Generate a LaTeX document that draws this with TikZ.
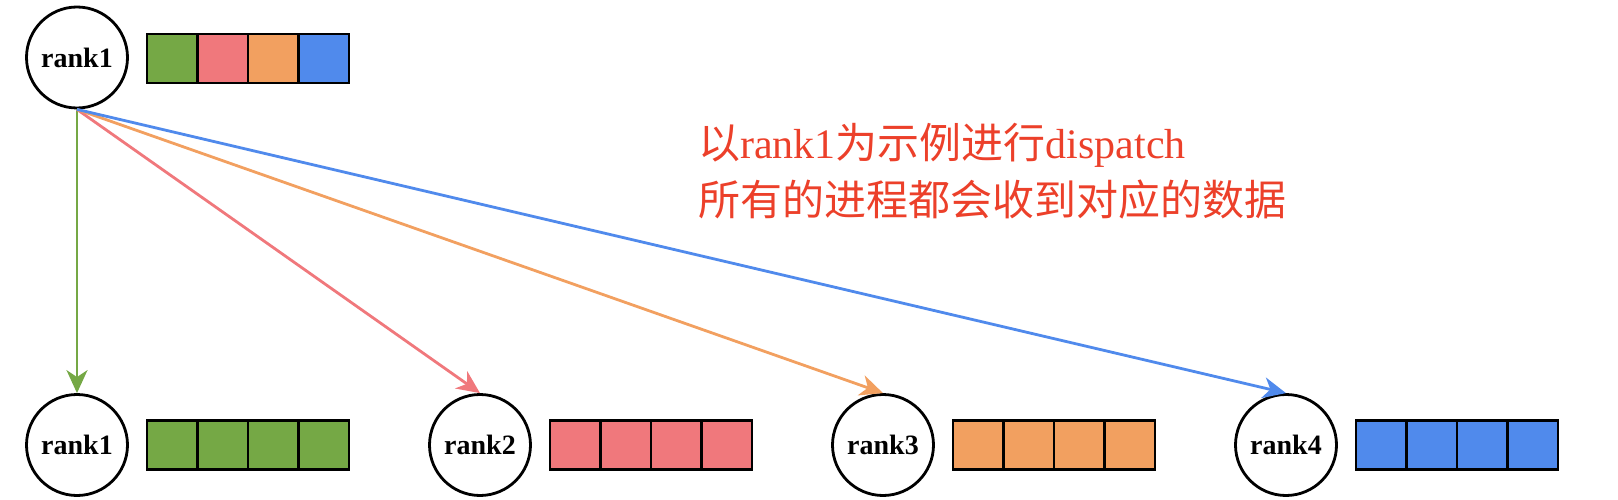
\documentclass[tikz,border=0pt]{standalone}
\usepackage{fontspec}
\setmainfont{Liberation Serif}
\newfontfamily\cjk{Noto Sans CJK SC}
\usetikzlibrary{arrows.meta}
\definecolor{cgreen}{RGB}{117,168,69}
\definecolor{cpink}{RGB}{240,120,124}
\definecolor{corange}{RGB}{242,160,96}
\definecolor{cblue}{RGB}{80,138,236}
\definecolor{cnote}{RGB}{236,64,42}
\begin{document}
\begin{tikzpicture}[x=1pt,y=-1pt,
 rankc/.style={circle,draw=black,line width=2.8pt,fill=white,minimum size=101pt,inner sep=0pt,font=\fontsize{28}{30}\selectfont\bfseries},
 cell/.style={draw=black,line width=2.8pt,minimum width=50.5pt,minimum height=49pt,inner sep=0pt,anchor=west},
 arr/.style={line width=2.8pt,-{Stealth[length=23pt,width=21pt,inset=7pt]}},
 note/.style={anchor=base west,inner sep=0pt,text=cnote,font=\fontsize{42}{56}\selectfont}]
\useasboundingbox (0,0) rectangle (1618,500);
% source
\node[rankc] (src) at (77,57.5) {rank1};
\foreach \c [count=\i] in {cgreen,cpink,corange,cblue}
  \node[cell,fill=\c] (top\i) at ({145.5+50.5*(\i-1)},58.5) {};
% destinations
\foreach \c [count=\i] in {cgreen,cpink,corange,cblue} {
  \node[rankc] (r\i) at ({77+403*(\i-1)},445) {rank\i};
  \foreach \j in {1,...,4}
    \node[cell,fill=\c] (b\i\j) at ({145.5+403*(\i-1)+50.5*(\j-1)},445) {};
}
% arrows
\draw[arr,cgreen] (src.south) -- (r1.north);
\draw[arr,cpink] (src.south) -- (r2.north);
\draw[arr,corange] (src.south) -- (r3.north);
\draw[arr,cblue] (src.south) -- (r4.north);
% note
\node[note] (note1) at (698,159) {{\cjk 以}rank1{\cjk 为示例进行}dispatch};
\node[note] (note2) at (698,215) {\cjk 所有的进程都会收到对应的数据};
\end{tikzpicture}
\end{document}
